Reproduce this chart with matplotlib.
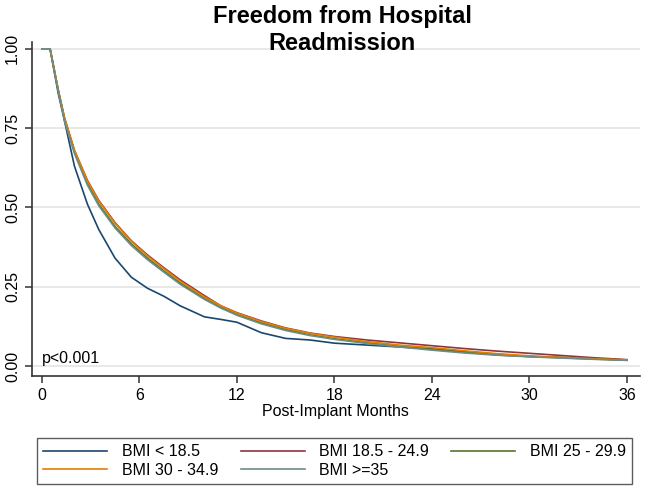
import matplotlib
matplotlib.use('Agg')
import matplotlib.pyplot as plt

plt.rcParams['font.family'] = ['Liberation Sans', 'DejaVu Sans']

# months post implant
months = [0, 0.5, 1.0, 1.4, 2.0, 2.8, 3.5, 4.5, 5.5, 6.5, 7.5, 8.5, 10, 11, 12,
          13.5, 15, 16.5, 18, 20, 22, 24, 26, 28, 30, 32, 34, 36]

bmi_lt185 = [1.0, 1.0, 0.86, 0.77, 0.63, 0.51, 0.43, 0.34, 0.28, 0.245, 0.22, 0.19, 0.155, 0.147, 0.138,
             0.105, 0.087, 0.082, 0.072, 0.066, 0.060, 0.054, 0.045, 0.035, 0.030, 0.027, 0.023, 0.019]
bmi_185_249 = [1.0, 1.0, 0.87, 0.78, 0.68, 0.585, 0.522, 0.452, 0.395, 0.35, 0.31, 0.272, 0.222, 0.19, 0.168,
               0.142, 0.12, 0.104, 0.093, 0.082, 0.073, 0.064, 0.055, 0.047, 0.040, 0.033, 0.026, 0.020]
bmi_25_299 = [1.0, 1.0, 0.87, 0.775, 0.675, 0.575, 0.51, 0.44, 0.385, 0.34, 0.30, 0.262, 0.213, 0.185, 0.162,
              0.136, 0.115, 0.098, 0.086, 0.073, 0.062, 0.052, 0.043, 0.036, 0.030, 0.026, 0.022, 0.018]
bmi_30_349 = [1.0, 1.0, 0.87, 0.78, 0.68, 0.583, 0.52, 0.45, 0.393, 0.347, 0.307, 0.268, 0.218, 0.19, 0.167,
              0.14, 0.119, 0.103, 0.091, 0.077, 0.066, 0.058, 0.048, 0.039, 0.032, 0.027, 0.023, 0.019]
bmi_ge35 = [1.0, 1.0, 0.87, 0.77, 0.67, 0.57, 0.505, 0.435, 0.38, 0.335, 0.296, 0.258, 0.21, 0.183, 0.16,
            0.133, 0.112, 0.096, 0.084, 0.071, 0.060, 0.050, 0.041, 0.034, 0.029, 0.025, 0.021, 0.018]

labels = ['BMI < 18.5', 'BMI 18.5 - 24.9', 'BMI 25 - 29.9', 'BMI 30 - 34.9', 'BMI >=35']
colors = ['#1a476f', '#90353b', '#55752f', '#e37e00', '#6e8e84']
series = [bmi_lt185, bmi_185_249, bmi_25_299, bmi_30_349, bmi_ge35]

fig = plt.figure(figsize=(6.46, 4.92), dpi=100)
ax = fig.add_axes([0.0495, 0.2358, 0.941, 0.679])

handles = []
for vals, lab, col in zip(series, labels, colors):
    h, = ax.plot(months, vals, color=col, lw=1.2, label=lab)
    handles.append(h)

ax.set_xlim(-0.615, 36.8)
ax.set_ylim(-0.0315, 1.022)
ax.set_xticks([0, 6, 12, 18, 24, 30, 36])
ax.set_yticks([0, 0.25, 0.5, 0.75, 1.0])
ax.set_yticklabels(['0.00', '0.25', '0.50', '0.75', '1.00'], rotation=90, va='center')
ax.yaxis.grid(True, color='#e6e6e6', lw=1.3)
ax.set_axisbelow(True)
for s in ['top', 'right']:
    ax.spines[s].set_visible(False)
for s in ['left', 'bottom']:
    ax.spines[s].set_color('#333333')
    ax.spines[s].set_linewidth(1.2)
ax.tick_params(direction='out', length=5, width=1.1, color='#333333', labelsize=11.5)
ax.set_xlabel('Post-Implant Months', fontsize=11.5, labelpad=1)

ax.text(0, 0.025, 'p<0.001', fontsize=11.5, va='center', ha='left')

fig.text(0.53, 0.99, 'Freedom from Hospital\nReadmission', ha='center', va='top',
         fontsize=17, fontweight='bold', linespacing=1.25)

# legend filled row by row like the original
order = [0, 3, 1, 4, 2]
leg = fig.legend([handles[i] for i in order], [labels[i] for i in order],
                 loc='lower left', bbox_to_anchor=(37 / 646, 1 - 484 / 492, (632 - 37) / 646, (484 - 436) / 492),
                 mode='expand', ncol=3, fontsize=11.5, frameon=True, fancybox=False,
                 handlelength=4.0, borderpad=0.4, labelspacing=0.2, handletextpad=0.9,
                 borderaxespad=0)
leg.get_frame().set_edgecolor('#333333')
leg.get_frame().set_linewidth(1.0)

fig.savefig('out.png', dpi=100)
